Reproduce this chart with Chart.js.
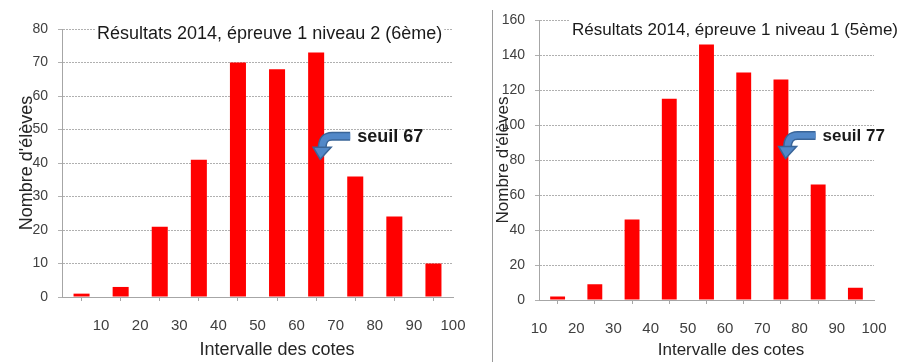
<!DOCTYPE html>
<html>
<head>
<meta charset="utf-8">
<script src="https://cdn.jsdelivr.net/npm/chart.js@4.4.0/dist/chart.umd.min.js"></script>
<style>
  body { margin: 0; background: #fff; }
  #wrap { position: relative; width: 903px; height: 362px; overflow: hidden; }
  canvas { position: absolute; top: 0; }
  #sep { position: absolute; left: 492px; top: 10px; width: 1px; height: 352px; background: #9a9a9a; }
</style>
</head>
<body>
<div id="wrap">
  <canvas id="left" width="490" height="362" style="left:0"></canvas>
  <div id="sep"></div>
  <canvas id="right" width="409" height="362" style="left:494px"></canvas>
</div>
<script>
// Data
const leftCenters = [5, 15, 25, 35, 45, 55, 65, 75, 85, 95];
const leftValues = [1, 3, 21, 41, 70, 68, 73, 36, 24, 10];
const leftTitle = 'Résultats 2014, épreuve 1 niveau 2 (6ème)';
const leftSeuil = 'seuil 67';

const rightCenters = [15, 25, 35, 45, 55, 65, 75, 85, 95];
const rightValues = [2, 9, 46, 115, 146, 130, 126, 66, 7];
const rightTitle = 'Résultats 2014, épreuve 1 niveau 1 (5ème)';
const rightSeuil = 'seuil 77';

const yLabel = "Nombre d'élèves";
const xLabel = 'Intervalle des cotes';

const FONT = "'Liberation Sans', Arial, sans-serif";

// Draws the in-plot title, axis titles and the seuil arrow
const decorPlugin = {
    id: 'decor',
    afterDraw(chart, args, opts) {
        const ctx = chart.ctx;
        const area = chart.chartArea;
        const xs = chart.scales.x;
        const ys = chart.scales.y;
        ctx.save();

        // title in the plot with white box behind
        ctx.font = opts.titleSize + 'px ' + FONT;
        const tw = ctx.measureText(opts.title).width;
        ctx.fillStyle = '#fff';
        ctx.fillRect(opts.titleX, area.top - 5, tw + 4, 20);
        ctx.fillStyle = '#1a1a1a';
        ctx.textBaseline = 'middle';
        ctx.textAlign = 'left';
        ctx.fillText(opts.title, opts.titleX + 2, opts.titleY);

        // y title
        ctx.font = opts.axisSize + 'px ' + FONT;
        ctx.fillStyle = '#262626';
        ctx.save();
        ctx.translate(opts.yTitleX, opts.yTitleY);
        ctx.rotate(-Math.PI / 2);
        ctx.textAlign = 'center';
        ctx.fillText(yLabel, 0, 0);
        ctx.restore();

        // x title
        ctx.textAlign = 'center';
        ctx.fillText(xLabel, opts.xTitleX, 350);

        // arrow
        const x0 = xs.getPixelForValue(opts.arrowX);
        const y0 = ys.getPixelForValue(opts.arrowY);
        const bend = 26;
        const path = () => {
            ctx.beginPath();
            ctx.moveTo(x0, y0);
            ctx.lineTo(x0 - bend + 8, y0);
            ctx.quadraticCurveTo(x0 - bend - 2, y0, x0 - bend - 2, y0 + 12);
        };
        ctx.lineCap = 'butt';
        ctx.strokeStyle = '#3a6598';
        ctx.lineWidth = 9;
        path(); ctx.stroke();
        ctx.strokeStyle = '#5288c8';
        ctx.lineWidth = 6;
        path(); ctx.stroke();
        const hx = x0 - bend - 2, hy = y0 + 11;
        ctx.beginPath();
        ctx.moveTo(hx - 9, hy);
        ctx.lineTo(hx + 9, hy);
        ctx.lineTo(hx - 2, hy + 12);
        ctx.closePath();
        ctx.fillStyle = '#5288c8';
        ctx.fill();
        ctx.strokeStyle = '#3a6598';
        ctx.lineWidth = 1.5;
        ctx.stroke();

        // seuil label
        ctx.font = 'bold ' + opts.seuilSize + 'px ' + FONT;
        ctx.fillStyle = '#1a1a1a';
        ctx.textAlign = 'left';
        ctx.textBaseline = 'middle';
        ctx.fillText(opts.seuil, x0 + 7, y0 + 1);
        ctx.restore();
    }
};

function makeChart(id, centers, values, cfg) {
    const ctx = document.getElementById(id).getContext('2d');
    return new Chart(ctx, {
        type: 'bar',
        data: {
            datasets: [{
                data: centers.map((c, i) => ({ x: c, y: values[i] })),
                backgroundColor: '#ff0000',
                borderWidth: 0,
                categoryPercentage: 1,
                barPercentage: cfg.barPct
            }]
        },
        options: {
            responsive: false,
            animation: false,
            layout: { padding: { top: cfg.top, right: cfg.right, left: 0, bottom: 0 } },
            plugins: {
                legend: { display: false },
                tooltip: { enabled: false },
                decor: cfg.decor
            },
            scales: {
                x: {
                    type: 'linear',
                    offset: false,
                    min: cfg.xMin,
                    max: 100,
                    ticks: {
                        stepSize: 10,
                        color: '#404040',
                        font: { family: FONT, size: 15 },
                        padding: 16,
                        maxRotation: 0,
                        autoSkip: false,
                        callback: v => (v === 0 ? '' : v)
                    },
                    grid: {
                        drawOnChartArea: false,
                        tickLength: 4,
                        color: '#a6a6a6'
                    },
                    border: { color: '#a6a6a6' },
                    afterFit: s => { s.height = cfg.xHeight; }
                },
                y: {
                    min: 0,
                    max: cfg.yMax,
                    ticks: {
                        stepSize: cfg.yStep,
                        color: '#404040',
                        font: { family: FONT, size: 14 },
                        padding: 10
                    },
                    grid: {
                        color: '#b0b0b0',
                        tickLength: 4,
                        drawTicks: true
                    },
                    border: { color: '#a6a6a6', dash: [2, 1] },
                    afterFit: s => { s.width = cfg.yWidth; }
                }
            }
        },
        plugins: [decorPlugin]
    });
}

makeChart('left', leftCenters, leftValues, {
    barPct: 0.41, top: 29, right: 37, xMin: 0, yMax: 80, yStep: 10,
    xHeight: 65, yWidth: 62,
    decor: {
        title: leftTitle, titleSize: 18, titleX: 95, titleY: 34,
        axisSize: 18, yTitleX: 27, yTitleY: 163, xTitleX: 277,
        arrowX: 73.7, arrowY: 48, seuil: leftSeuil, seuilSize: 18
    }
});

makeChart('right', rightCenters, rightValues, {
    barPct: 0.40, top: 20, right: 29, xMin: 10, yMax: 160, yStep: 20,
    xHeight: 62, yWidth: 45,
    decor: {
        title: rightTitle, titleSize: 17, titleX: 76, titleY: 30,
        axisSize: 17, yTitleX: 9, yTitleY: 160, xTitleX: 237,
        arrowX: 84.3, arrowY: 94, seuil: rightSeuil, seuilSize: 17
    }
});
</script>
</body>
</html>
